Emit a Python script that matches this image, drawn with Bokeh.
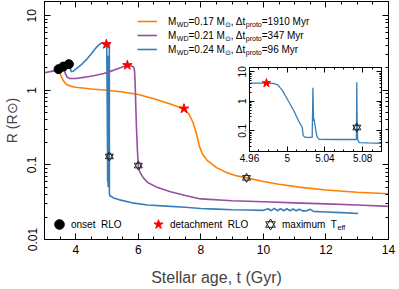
import numpy as np
from bokeh.plotting import figure
from bokeh.models import (Range1d, LinearAxis, LogAxis, FixedTicker, SingleIntervalTicker,
                          CustomJSTickFormatter, Legend, LegendItem, Label)
from bokeh.layouts import column
from bokeh.embed import file_html
from bokeh.resources import INLINE

# ---------------- data ----------------
# M_WD = 0.17 Msun track
t_017 = [3.45, 3.52, 3.60, 3.70, 3.85, 4.00, 4.50, 5.00, 5.50, 6.00, 6.50, 7.00, 7.46, 7.62,
         7.75, 7.85, 7.95, 8.05, 8.20, 8.50, 8.82, 9.10, 9.46, 10.0, 10.5, 11.2, 12.0, 13.0, 14.0]
R_017 = [1.92, 1.60, 1.35, 1.20, 1.13, 1.10, 1.04, 1.00, 0.95, 0.88, 0.77, 0.66, 0.567, 0.48,
         0.37, 0.27, 0.18, 0.14, 0.115, 0.092, 0.079, 0.072, 0.067, 0.060, 0.055, 0.050, 0.046,
         0.043, 0.041]

# M_WD = 0.21 Msun track
t_021 = [3.00, 3.30, 3.60, 3.66, 3.72, 3.80, 4.00, 4.30, 4.60, 4.90, 5.20, 5.45, 5.65, 5.78,
         5.85, 5.88, 5.90, 5.92, 5.94, 5.97, 6.00, 6.05, 6.15, 6.30, 6.60, 7.00, 7.50, 8.00,
         9.00, 10.0, 11.0, 12.0, 13.0, 14.0]
R_021 = [1.72, 1.82, 2.08, 1.70, 1.50, 1.44, 1.44, 1.50, 1.58, 1.68, 1.85, 2.02, 2.17, 2.12,
         2.05, 1.80, 1.20, 0.60, 0.32, 0.16, 0.098, 0.080, 0.068, 0.058, 0.050, 0.044, 0.039,
         0.035, 0.033, 0.032, 0.031, 0.030, 0.029, 0.0278]

# M_WD = 0.24 Msun track (before the zoomed window)
t_024_pre = [3.78, 3.82, 3.86, 3.92, 4.00, 4.10, 4.20, 4.35, 4.50, 4.62, 4.72, 4.80, 4.86,
             4.90, 4.93]
R_024_pre = [2.24, 1.95, 1.78, 1.80, 1.92, 2.08, 2.25, 2.60, 3.10, 3.60, 4.00, 4.25, 4.30,
             4.15, 4.20]
# zoomed window (inset)
t_024_zoom = [4.960, 4.975, 4.985, 4.990, 4.995, 5.000, 5.007, 5.012, 5.016, 5.017, 5.0195,
              5.0265, 5.0273, 5.0279, 5.0284, 5.0290, 5.0300, 5.0315, 5.0335, 5.0500, 5.0734,
              5.0738, 5.0742, 5.0748, 5.0765, 5.0850, 5.1000]
R_024_zoom = [4.15, 4.15, 4.05, 3.60, 2.30, 1.20, 0.48, 0.22, 0.13, 0.068, 0.060,
              0.060, 2.90, 0.22, 0.26, 0.20, 0.12, 0.065, 0.052, 0.051, 0.051,
              4.40, 0.15, 0.050, 0.040, 0.039, 0.038]
# after the zoomed window
t_024_post = [5.13, 5.20, 5.40, 5.80, 6.30, 6.90, 7.50, 8.00, 8.50, 9.00, 9.50, 10.00, 10.15,
              10.25, 10.35, 10.45, 10.55, 10.65, 10.75, 10.85, 10.95, 11.05, 11.15, 11.25,
              11.40, 11.50, 11.60, 12.00, 12.50, 13.03]
R_024_post = [0.038, 0.036, 0.034, 0.031, 0.029, 0.028, 0.027, 0.026, 0.0255, 0.025, 0.0248,
              0.0246, 0.0258, 0.0243, 0.0262, 0.0243, 0.0260, 0.0243, 0.0258, 0.0243, 0.0256,
              0.0243, 0.0255, 0.0242, 0.0244, 0.0254, 0.0238, 0.0234, 0.0229, 0.0223]

# special points (order: 0.17, 0.21, 0.24)
onset_t = [3.45, 3.60, 3.78]
onset_R = [1.92, 2.08, 2.24]
detach_t = [7.46, 5.65, 4.978]
detach_R = [0.567, 2.17, 4.15]
teff_t = [9.46, 6.00, 5.0738]
teff_R = [0.067, 0.098, 0.13]

# legend text
wd_mass = ["0.17", "0.21", "0.24"]
dt_proto = ["1910", "347", "96"]

# ticks
x_major_step = 2
y_ticks = [0.01, 0.1, 1, 10]
inset_x_step = 0.04
inset_y_ticks = [0.1, 1, 10]

# ---------------- style ----------------
FONT = "Liberation Sans"
C017, C021, C024 = "#ff7f00", "#984ea3", "#377eb8"

XL, XR, YT, YB = 44, 388, 1, 239          # main frame in page pixels
X0, X1, Y0, Y1 = 3.0, 14.0, 0.01, 15.5


def fx(px):
    return X0 + (px - XL) * (X1 - X0) / (XR - XL)


def fy(py):
    a, b = np.log10(Y0), np.log10(Y1)
    return 10 ** (a + (YB - py) * (b - a) / (YB - YT))


minor_log = [m * 10.0 ** e for e in range(-3, 2) for m in range(2, 10)]


def plain_fmt():
    return CustomJSTickFormatter(code="return String(Number(tick.toFixed(3)));")


def blank_fmt():
    return CustomJSTickFormatter(code="return '';")


def style_axis(ax, size, show_labels=True):
    ax.axis_line_color = "black"
    ax.axis_line_width = 1
    ax.major_tick_line_color = "black"
    ax.minor_tick_line_color = "black"
    ax.major_tick_out = 0
    ax.minor_tick_out = 0
    ax.major_label_text_font = FONT
    ax.axis_label_text_font = FONT
    ax.axis_label_text_font_style = "normal"
    ax.major_label_text_color = "black"
    ax.major_label_text_font_size = size
    if not show_labels:
        ax.formatter = blank_fmt()
        ax.major_label_standoff = 0


# ---------------- main figure ----------------
p = figure(frame_width=XR - XL, frame_height=YB - YT,
           x_range=Range1d(X0, X1), y_range=Range1d(Y0, Y1), y_axis_type="log",
           output_backend="svg", toolbar_location=None,
           min_border_left=XL, min_border_right=11, min_border_top=YT, min_border_bottom=50)
p.grid.visible = False
p.outline_line_color = "black"
p.background_fill_color = "white"
p.border_fill_color = "white"

xt = SingleIntervalTicker(interval=x_major_step, num_minor_ticks=4)
yt = FixedTicker(ticks=y_ticks, minor_ticks=minor_log)

xa = p.xaxis[0]
xa.ticker = xt
style_axis(xa, "12px")
xa.major_tick_in, xa.minor_tick_in = 6, 3
xa.major_label_standoff = 5
xa.axis_label = "Stellar age, t (Gyr)"
xa.axis_label_text_font_size = "16px"
xa.axis_label_standoff = 12

ya = p.yaxis[0]
ya.ticker = yt
ya.formatter = plain_fmt()
style_axis(ya, "12px")
ya.major_tick_in, ya.minor_tick_in = 6, 3
ya.major_label_orientation = "vertical"
ya.major_label_standoff = 8
ya.axis_label = "R (R\u2299)"
ya.axis_label_text_font_size = "14px"
ya.axis_label_standoff = 5

top_ax = LinearAxis(ticker=xt)
style_axis(top_ax, "1px", show_labels=False)
top_ax.major_tick_in, top_ax.minor_tick_in = 6, 3
p.add_layout(top_ax, "above")
right_ax = LogAxis(ticker=yt)
style_axis(right_ax, "1px", show_labels=False)
right_ax.major_tick_in, right_ax.minor_tick_in = 6, 3
p.add_layout(right_ax, "right")

t_024 = t_024_pre + t_024_zoom + t_024_post
R_024 = R_024_pre + R_024_zoom + R_024_post

r017 = p.line(t_017, R_017, line_color=C017, line_width=1.6)
r024 = p.line(t_024, R_024, line_color=C024, line_width=1.6)
r021 = p.line(t_021, R_021, line_color=C021, line_width=1.6)

r_on = p.scatter(onset_t, onset_R, marker="circle", size=9, fill_color="black", line_color="black")
r_det = p.scatter(detach_t, detach_R, marker="star", size=10, fill_color="red", line_color="red")
r_t1 = p.scatter(teff_t, teff_R, marker="triangle", size=8, fill_alpha=0, line_color="#222222", line_width=1)
r_t2 = p.scatter(teff_t, teff_R, marker="inverted_triangle", size=8, fill_alpha=0, line_color="#222222", line_width=1)

# line legend: the legend draws the line samples and the leading "M";
# the rest of each label (with subscripts) is added as text pieces.
ROW0, ROWH, TXT_X = 21, 14, 168
leg_lines = Legend(items=[LegendItem(label="M", renderers=[r]) for r in (r017, r021, r024)],
                   location=(137 - XL, YB - (ROW0 - ROWH / 2 + 3 * ROWH)), orientation="vertical",
                   glyph_width=20, glyph_height=ROWH, label_height=ROWH,
                   label_standoff=TXT_X - 157, spacing=0, padding=0, margin=0,
                   border_line_alpha=0, background_fill_alpha=0,
                   label_text_font=FONT, label_text_font_size="10px", label_text_color="black")
p.add_layout(leg_lines)

W = {' ': .278, '.': .278, ',': .278, '=': .584, 'M': .833, 'W': .944, 'D': .722, 'y': .5,
     'r': .333, 'p': .556, 'o': .556, 't': .278, 'e': .556, 'f': .278, '\u0394': .668,
     'T': .611, '\u2299': .838, 'a': .556, 'x': .5, 'i': .222, 'm': .833, 'u': .556,
     'n': .556, 's': .5, 'R': .722, 'L': .556, 'O': .778}


def tw(s, size):
    return sum(W.get(c, .556) for c in s) * size


def rich(x0, yc, pieces):
    x = x0
    for txt, size, dy in pieces:
        p.add_layout(Label(x=fx(x), y=fy(yc + dy), text=txt, text_font=FONT,
                           text_font_size=f"{size}px", text_baseline="middle",
                           text_align="left", text_color="black"))
        x += tw(txt, size)


for i, (m, dt) in enumerate(zip(wd_mass, dt_proto)):
    rich(TXT_X + tw("M", 10), ROW0 + ROWH * i,
         [("WD", 7, 3), (f"={m} M", 10, 0), ("\u2299", 7, 3),
          (", \u0394t", 10, 0), ("proto", 7, 3), (f"={dt} Myr", 10, 0)])

# marker legends (one per symbol, centred on page row y = 224)
LEG_Y = 224


def mk_legend(label, renderers, cx):
    lg = Legend(items=[LegendItem(label=label, renderers=renderers)],
                location=(cx - 12 - XL, (YB - LEG_Y) - 12), glyph_width=24, glyph_height=24,
                label_height=24, label_standoff=0, padding=0, margin=0, spacing=0,
                border_line_alpha=0, background_fill_alpha=0,
                label_text_font=FONT, label_text_font_size="10px", label_text_color="black")
    p.add_layout(lg)


mk_legend("onset  RLO", [r_on], 59)
mk_legend("detachment  RLO", [r_det], 158)
mk_legend("maximum  T", [r_t1, r_t2], 270)
p.add_layout(Label(x=fx(282 + tw("maximum  T", 10)), y=fy(LEG_Y + 3), text="eff", text_font=FONT,
                   text_font_size="7px", text_baseline="middle", text_color="black"))

# ---------------- inset ----------------
IL, IR, IT, IB = 245, 377, 67, 151     # inset frame in page pixels
IBL, IBR, IBT, IBB = 40, 10, 10, 30    # generous borders around the inset frame
ins = figure(frame_width=IR - IL, frame_height=IB - IT,
             x_range=Range1d(4.96, 5.10), y_range=Range1d(0.02, 14), y_axis_type="log",
             output_backend="svg", toolbar_location=None,
             min_border_left=IBL, min_border_right=IBR, min_border_top=IBT, min_border_bottom=IBB)
ins.grid.visible = False
ins.outline_line_color = "black"
ins.background_fill_color = "white"
ins.border_fill_alpha = 0

ixt = SingleIntervalTicker(interval=inset_x_step, num_minor_ticks=4)
iyt = FixedTicker(ticks=inset_y_ticks, minor_ticks=minor_log)
ixa = ins.xaxis[0]
ixa.ticker = ixt
ixa.formatter = plain_fmt()
style_axis(ixa, "10px")
ixa.major_tick_in, ixa.minor_tick_in = 5, 2
ixa.major_label_standoff = 2
iya = ins.yaxis[0]
iya.ticker = iyt
iya.formatter = plain_fmt()
style_axis(iya, "10px")
iya.major_tick_in, iya.minor_tick_in = 5, 2
iya.major_label_orientation = "vertical"
iya.major_label_standoff = 3
itop = LinearAxis(ticker=ixt)
style_axis(itop, "1px", show_labels=False)
itop.major_tick_in, itop.minor_tick_in = 5, 2
ins.add_layout(itop, "above")
iright = LogAxis(ticker=iyt)
style_axis(iright, "1px", show_labels=False)
iright.major_tick_in, iright.minor_tick_in = 5, 2
ins.add_layout(iright, "right")

ins.line(t_024_zoom, R_024_zoom, line_color=C024, line_width=1.3)
ins.scatter(detach_t[2:], detach_R[2:], marker="star", size=9, fill_color="red", line_color="red")
ins.scatter(teff_t[2:], teff_R[2:], marker="triangle", size=8, fill_alpha=0, line_color="#222222")
ins.scatter(teff_t[2:], teff_R[2:], marker="inverted_triangle", size=8, fill_alpha=0, line_color="#222222")

main_h = YT + (YB - YT) + 50
ins.margin = (IT - IBT - main_h, 0, 0, IL - IBL)

layout = column(p, ins)
open("out.html", "w").write(file_html(layout, INLINE))
